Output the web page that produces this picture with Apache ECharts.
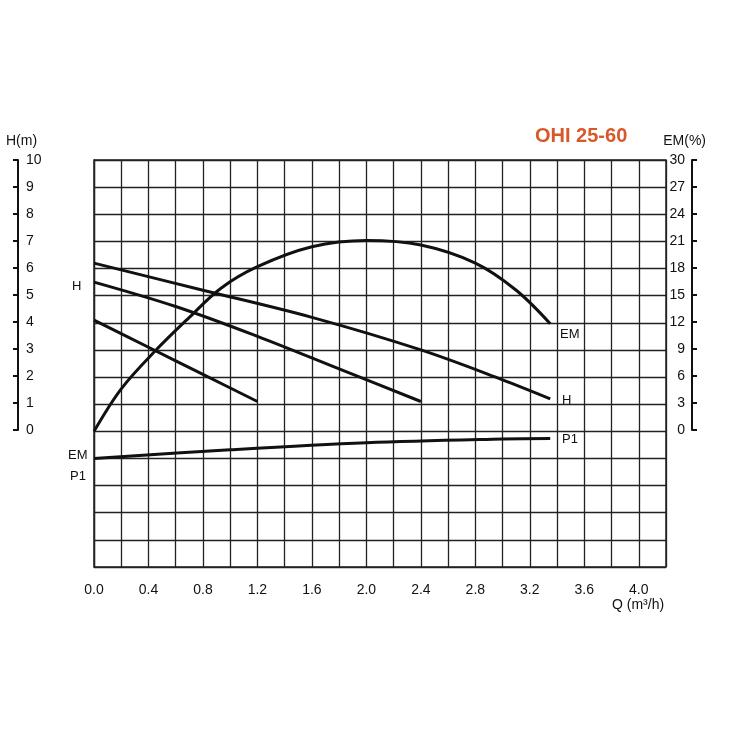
<!DOCTYPE html>
<html><head><meta charset="utf-8">
<script src="https://cdn.jsdelivr.net/npm/echarts@6/dist/echarts.min.js"></script>
<style>html,body{margin:0;background:#fff}#c{width:736px;height:736px}</style>
</head><body><div id="c"></div>
<script>
const hHigh = [[0, 6.2], [0.8, 5.2], [1.6, 4.2], [2.4, 3.0], [3.0, 1.9], [3.35, 1.2]];
const hMid = [[0, 5.5], [0.6, 4.6], [1.2, 3.5], [1.8, 2.3], [2.4, 1.1]];
const hLow = [[0, 4.1], [0.4, 3.1], [0.8, 2.1], [1.2, 1.1]];
const emCurve = [[0, 0], [0.2, 4.7], [0.45, 8.9], [0.7, 12.6], [0.93, 15.8], [1.2, 18.2], [1.6, 20.4], [2.0, 21.1], [2.4, 20.6], [2.8, 18.6], [3.1, 15.6], [3.35, 11.9]];
const p1Curve = [[0, -1.0], [1.0, -0.68], [2.0, -0.42], [3.0, -0.28], [3.35, -0.26]];
const hTicks = [0, 10];
const emTicks = [0, 30];

const chart = echarts.init(document.getElementById('c'));
const font = 'Liberation Sans';
const line = (name, data, yIdx) => ({
  name, type: 'line', data, smooth: 0.35, showSymbol: false, symbol: 'none',
  xAxisIndex: 0, yAxisIndex: yIdx, lineStyle: { color: '#111', width: 3 }
});
chart.setOption({
  animation: false,
  textStyle: { fontFamily: font },
  title: { text: 'OHI 25-60', left: 530, top: 121, textStyle: { color: '#d9582a', fontSize: 20, fontWeight: 'bold', fontFamily: font } },
  grid: [
    { left: 94, right: 70, top: 160, bottom: 169 },
    { left: 18, width: 1, top: 160, height: 270 },
    { left: 692, width: 1, top: 160, height: 270 }
  ],
  xAxis: [
    { type: 'value', min: 0, max: 4.2, interval: 0.2, gridIndex: 0,
      axisLine: { show: false }, axisTick: { show: false },
      splitLine: { lineStyle: { color: '#222', width: 1.3 } },
      axisLabel: { fontSize: 14, color: '#111', margin: 16,
        formatter: v => { const i = Math.round(v * 5); return (i % 2 === 0 && v <= 4.0001) ? v.toFixed(1) : ''; } } },
    { type: 'value', gridIndex: 1, show: false },
    { type: 'value', gridIndex: 2, show: false }
  ],
  yAxis: [
    { type: 'value', min: -5, max: 10, interval: 1, gridIndex: 0,
      axisLabel: { show: false }, axisTick: { show: false },
      axisLine: { show: true, lineStyle: { color: '#222', width: 1.3 } },
      splitLine: { lineStyle: { color: '#222', width: 1.3 } } },
    { type: 'value', min: -15, max: 30, gridIndex: 0, show: false },
    { type: 'value', min: hTicks[0], max: hTicks[1], interval: 1, gridIndex: 1,
      name: 'H(m)', nameTextStyle: { color: '#111', fontSize: 14, align: 'left', padding: [0, 0, 0, -12] }, nameGap: 12,
      axisLine: { show: true, lineStyle: { color: '#111', width: 2 } },
      axisTick: { show: true, inside: false, length: 5, lineStyle: { width: 2 } },
      axisLabel: { inside: true, color: '#111', fontSize: 14, margin: 8 },
      splitLine: { show: false } },
    { type: 'value', min: emTicks[0], max: emTicks[1], interval: 3, gridIndex: 2, position: 'right',
      name: 'EM(%)', nameTextStyle: { color: '#111', fontSize: 14, align: 'right', padding: [0, -14, 0, 0] }, nameGap: 12,
      axisLine: { show: true, lineStyle: { color: '#111', width: 2 } },
      axisTick: { show: true, length: 5, lineStyle: { width: 2 } },
      axisLabel: { inside: true, color: '#111', fontSize: 14, margin: 8 },
      splitLine: { show: false } }
  ],
  graphic: [
    { type: 'rect', shape: { x: 94, y: 160, width: 572, height: 407 }, style: { fill: 'none', stroke: '#222', lineWidth: 1.5 } },
    { type: 'text', left: 612, top: 598, style: { text: 'Q (m³/h)', font: '14px "Liberation Sans"', fill: '#111' } },
    { type: 'text', left: 72, top: 280, style: { text: 'H', font: '13px "Liberation Sans"', fill: '#111' } },
    { type: 'text', left: 560, top: 328, style: { text: 'EM', font: '13px "Liberation Sans"', fill: '#111' } },
    { type: 'text', left: 562, top: 394, style: { text: 'H', font: '13px "Liberation Sans"', fill: '#111' } },
    { type: 'text', left: 562, top: 433, style: { text: 'P1', font: '13px "Liberation Sans"', fill: '#111' } },
    { type: 'text', left: 68, top: 449, style: { text: 'EM', font: '13px "Liberation Sans"', fill: '#111' } },
    { type: 'text', left: 70, top: 470, style: { text: 'P1', font: '13px "Liberation Sans"', fill: '#111' } }
  ],
  series: [
    line('H high', hHigh, 0),
    line('H mid', hMid, 0),
    line('H low', hLow, 0),
    line('EM', emCurve, 1),
    line('P1', p1Curve, 0)
  ]
});
</script></body></html>
